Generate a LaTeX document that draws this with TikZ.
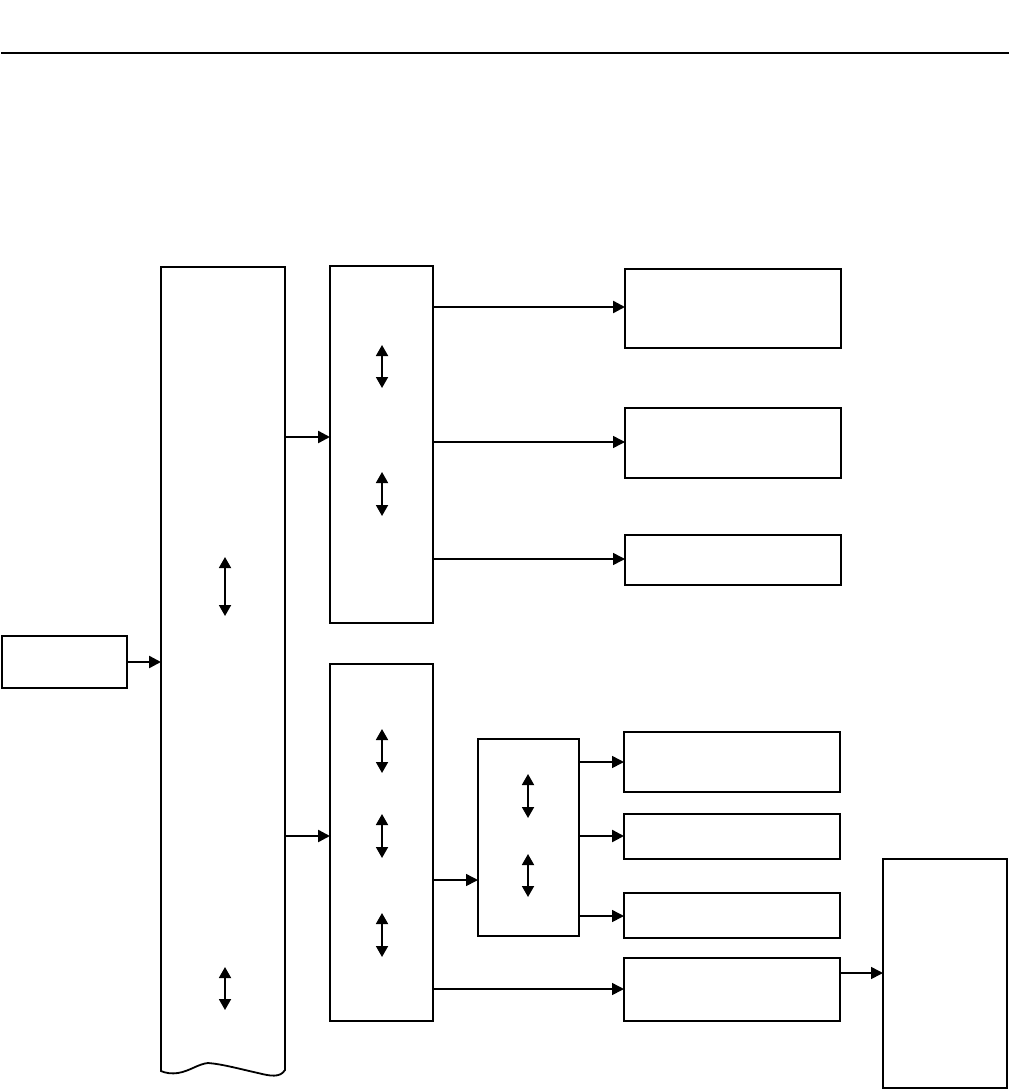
\documentclass[tikz,border=0pt]{standalone}
\usetikzlibrary{arrows.meta}
\begin{document}
\begin{tikzpicture}[x=1pt,y=-1pt,
  box/.style={draw=black,line width=1.8pt,inner sep=0pt,outer sep=0pt,anchor=north west},
  boxb/.style={box,line width=2.4pt},
  arr/.style={line width=1.5pt,-{Triangle[length=12pt,width=12pt]}},
  arrb/.style={line width=2.4pt,-{Triangle[length=12pt,width=12pt]}},
  dbl/.style={line width=1.8pt,{Triangle[length=11pt,width=12pt]}-{Triangle[length=11pt,width=12pt]}}]
\useasboundingbox (0,0) rectangle (1010,1089);
% top rule
\draw[line width=1.8pt] (1,53) -- (1009,53);
% input box
\node[box,minimum width=125pt,minimum height=52pt] (in) at (2,636) {};
% tall box with wavy bottom
\coordinate (tallNW) at (161,267);
\coordinate (tallNE) at (285,267);
\draw[line width=1.8pt] (tallNE) -- (285,1070)
  .. controls (280,1078) and (270,1076) .. (258,1073)
  .. controls (240,1069) and (222,1064) .. (208,1063)
  .. controls (198,1064) and (190,1071) .. (178,1073)
  .. controls (172,1074) and (165,1073) .. (161,1071) -- (tallNW) -- cycle;
\node[inner sep=0pt,outer sep=0pt,minimum width=124pt,minimum height=800pt,anchor=north west] (tall) at (161,267) {};
% middle boxes
\node[box,minimum width=103pt,minimum height=357pt] (m1) at (330,266) {};
\node[box,minimum width=103pt,minimum height=357pt] (m2) at (330,664) {};
% inner box
\node[box,minimum width=101pt,minimum height=197pt] (ib) at (478,739) {};
% right boxes
\node[box,minimum width=216pt,minimum height=79pt] (r1) at (625,269) {};
\node[box,minimum width=216pt,minimum height=70pt] (r2) at (625,408) {};
\node[box,minimum width=216pt,minimum height=50pt] (r3) at (625,535) {};
\node[boxb,minimum width=216pt,minimum height=60pt] (r4) at (624,732) {};
\node[boxb,minimum width=216pt,minimum height=45pt] (r5) at (624,814) {};
\node[boxb,minimum width=216pt,minimum height=45pt] (r6) at (624,893) {};
\node[boxb,minimum width=216pt,minimum height=63pt] (r7) at (624,958) {};
% big right box
\node[box,minimum width=124pt,minimum height=229pt] (big) at (883,859) {};
% connectors
\draw[arrb] (in.east) -- (tall.west |- in.east);
\draw[arrb] (tall.east |- 0,437) -- (m1.west |- 0,437);
\draw[arrb] (tall.east |- 0,836) -- (m2.west |- 0,836);
\draw[arrb] (m1.east |- 0,307) -- (r1.west |- 0,307);
\draw[arr] (m1.east |- 0,442) -- (r2.west |- 0,442);
\draw[arr] (m1.east |- 0,559) -- (r3.west |- 0,559);
\draw[arr] (m2.east |- 0,880) -- (ib.west |- 0,880);
\draw[arr] (ib.east |- 0,762) -- (r4.west |- 0,762);
\draw[arrb] (ib.east |- 0,836) -- (r5.west |- 0,836);
\draw[arr] (ib.east |- 0,916) -- (r6.west |- 0,916);
\draw[arr] (m2.east |- 0,989) -- (r7.west |- 0,989);
\draw[arr] (r7.east |- 0,973) -- (big.west |- 0,973);
% double arrows
\coordinate (d1a) at (225,557); \coordinate (d1b) at (225,616);
\coordinate (d2a) at (225,967); \coordinate (d2b) at (225,1010);
\coordinate (d3a) at (382,345); \coordinate (d3b) at (382,388);
\coordinate (d4a) at (382,472); \coordinate (d4b) at (382,516);
\coordinate (d5a) at (382,729); \coordinate (d5b) at (382,773);
\coordinate (d6a) at (382,814); \coordinate (d6b) at (382,858);
\coordinate (d7a) at (382,913); \coordinate (d7b) at (382,957);
\coordinate (d8a) at (528,774); \coordinate (d8b) at (528,818);
\coordinate (d9a) at (528,854); \coordinate (d9b) at (528,897);
\foreach \p in {1,...,9} {\draw[dbl] (d\p a) -- (d\p b);}
\end{tikzpicture}
\end{document}
